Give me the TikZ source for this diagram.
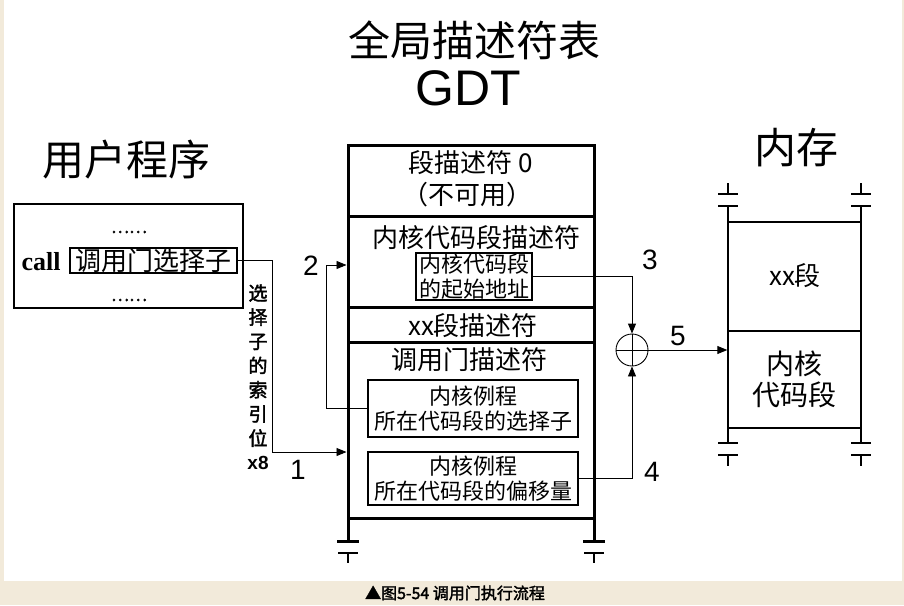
\documentclass[tikz,border=0pt]{standalone}
\usepackage{fontspec}
\usepackage{xcolor}
\usetikzlibrary{arrows.meta,positioning}
\setmainfont{Liberation Sans}
\newfontfamily\cjk{Noto Sans CJK SC}
\newfontfamily\cjkbold{Noto Sans CJK SC}[FakeBold=2]
\newfontfamily\callfont{Liberation Serif}
\definecolor{paper}{HTML}{F2EADA}

\begin{document}
\begin{tikzpicture}[x=1pt,y=-1pt,>={Triangle[length=10pt,width=8pt]},
    thin line/.style={line width=0.9pt},
    gdt line/.style={line width=3pt},
    mem line/.style={line width=1.4pt},
    big text/.style={font=\cjk\fontsize{42}{46}\selectfont},
    row text/.style={font=\cjk\fontsize{26}{30}\selectfont},
    inner box/.style={draw,line width=1.3pt,inner sep=0pt,align=center,font=\cjk\fontsize{22}{24.5}\selectfont},
    step num/.style={font=\fontsize{28}{30}\selectfont}]

    % frame
    \fill[paper] (0,0) rectangle (904,605);
    \fill[white] (4,0) rectangle (902,581);

    % titles
    \node[big text] (title) at (474,40) {全局描述符表};
    \node[font=\fontsize{50}{52}\selectfont] (gdt) at (468,88) {GDT};
    \node[big text] (user) at (126,160) {用户程序};
    \node[big text] (mem) at (796,148) {内存};

    % user program
    \node[draw,line width=1.5pt,minimum width=229pt,minimum height=104pt] (prog) at (128.5,256) {};
    \node[font=\cjkbold\fontsize{17}{20}\selectfont] (dots1) at (129,232) {……};
    \node[font=\cjkbold\fontsize{17}{20}\selectfont] (dots2) at (129,300) {……};
    \node[font=\callfont\bfseries\fontsize{26}{28}\selectfont] (call) at (41,262) {call};
    \node[inner box,font=\cjk\fontsize{26}{28}\selectfont,minimum width=167pt,minimum height=25pt] (sel) at (153.5,260.5) {调用门选择子};
    \node[align=center,font=\cjkbold\fontsize{19}{24.2}\selectfont] (idx) at (258,377)
        {选\\择\\子\\的\\索\\引\\位\\{\fontspec{Liberation Sans}\bfseries x8}};

    % GDT
    \node[draw,gdt line,minimum width=246pt,minimum height=373pt,inner sep=0pt] (table) at (471,331.5) {};
    \draw[gdt line] (348,216) -- (594,216);
    \draw[gdt line] (348,307) -- (594,307);
    \draw[gdt line] (348,342) -- (594,342);
    \node[row text] (d0) at (471,163) {段描述符 0};
    \node[row text] (d0b) at (467,195) {（不可用）};
    \node[row text] (kdesc) at (476,238) {内核代码段描述符};
    \node[row text] (xdesc) at (473,326) {xx段描述符};
    \node[row text] (gdesc) at (469,360) {调用门描述符};
    \node[inner box,minimum width=116pt,minimum height=47pt] (kbase) at (474,276.5) {内核代码段\\的起始地址};
    \node[inner box,minimum width=210pt,minimum height=57pt] (ksel) at (473,408.5) {内核例程\\所在代码段的选择子};
    \node[inner box,minimum width=210pt,minimum height=53pt] (koff) at (473,478.5) {内核例程\\所在代码段的偏移量};
    \foreach \x in {348,594} {
        \draw[gdt line] (\x,518) -- (\x,541);
        \draw[gdt line] (\x-11,541) -- (\x+11,541);
        \draw[mem line] (\x-10,553) -- (\x+10,553);
        \draw[mem line] (\x,553) -- (\x,563);
    }

    % memory
    \node[draw,mem line,minimum width=133pt,minimum height=109pt,inner sep=0pt] (xseg) at (794.5,276.5) {};
    \node[draw,mem line,minimum width=133pt,minimum height=97pt,inner sep=0pt,align=center,
        font=\cjk\fontsize{28}{31}\selectfont] (kseg) at (794.5,379.5) {内核\\代码段};
    \node[font=\cjk\fontsize{26}{30}\selectfont] (xname) at (795,276) {xx段};
    \foreach \x in {728,861} {
        \draw[mem line] (\x,183) -- (\x,194);
        \draw[mem line] (\x-10,194) -- (\x+10,194);
        \draw[mem line] (\x-10,206) -- (\x+10,206);
        \draw[mem line] (\x,206) -- (\x,222);
        \draw[mem line] (\x,428) -- (\x,443);
        \draw[mem line] (\x-10,443) -- (\x+10,443);
        \draw[mem line] (\x-10,455) -- (\x+10,455);
        \draw[mem line] (\x,455) -- (\x,466);
    }

    % adder
    \node[draw,thin line,circle,minimum size=32pt,inner sep=0pt] (plus) at (632,350) {};
    \draw[thin line] (plus.north) -- (plus.south);
    \draw[thin line] (plus.west) -- (plus.east);

    % connectors
    \coordinate (bend1) at (272,452);
    \coordinate (bend2) at (326,265);
    \draw[thin line,->] (sel.east) -| (bend1) -- (table.west |- bend1);
    \draw[thin line,->] (ksel.west) -| (bend2) -- (table.west |- bend2);
    \draw[thin line,->] (kbase.east) -| (plus.north);
    \draw[thin line,->] (koff.east) -| (plus.south);
    \draw[thin line,->] (plus.east) -- (plus.east -| kseg.west);

    % step numbers
    \node[step num] (n1) at (298,470) {1};
    \node[step num] (n2) at (311,266) {2};
    \node[step num] (n3) at (650,260) {3};
    \node[step num] (n4) at (652,472) {4};
    \node[step num] (n5) at (678,336) {5};

    % caption
    \node[font=\cjkbold\fontsize{16}{18}\selectfont] (cap) at (455,593) {▲图5-54 调用门执行流程};
\end{tikzpicture}
\end{document}
